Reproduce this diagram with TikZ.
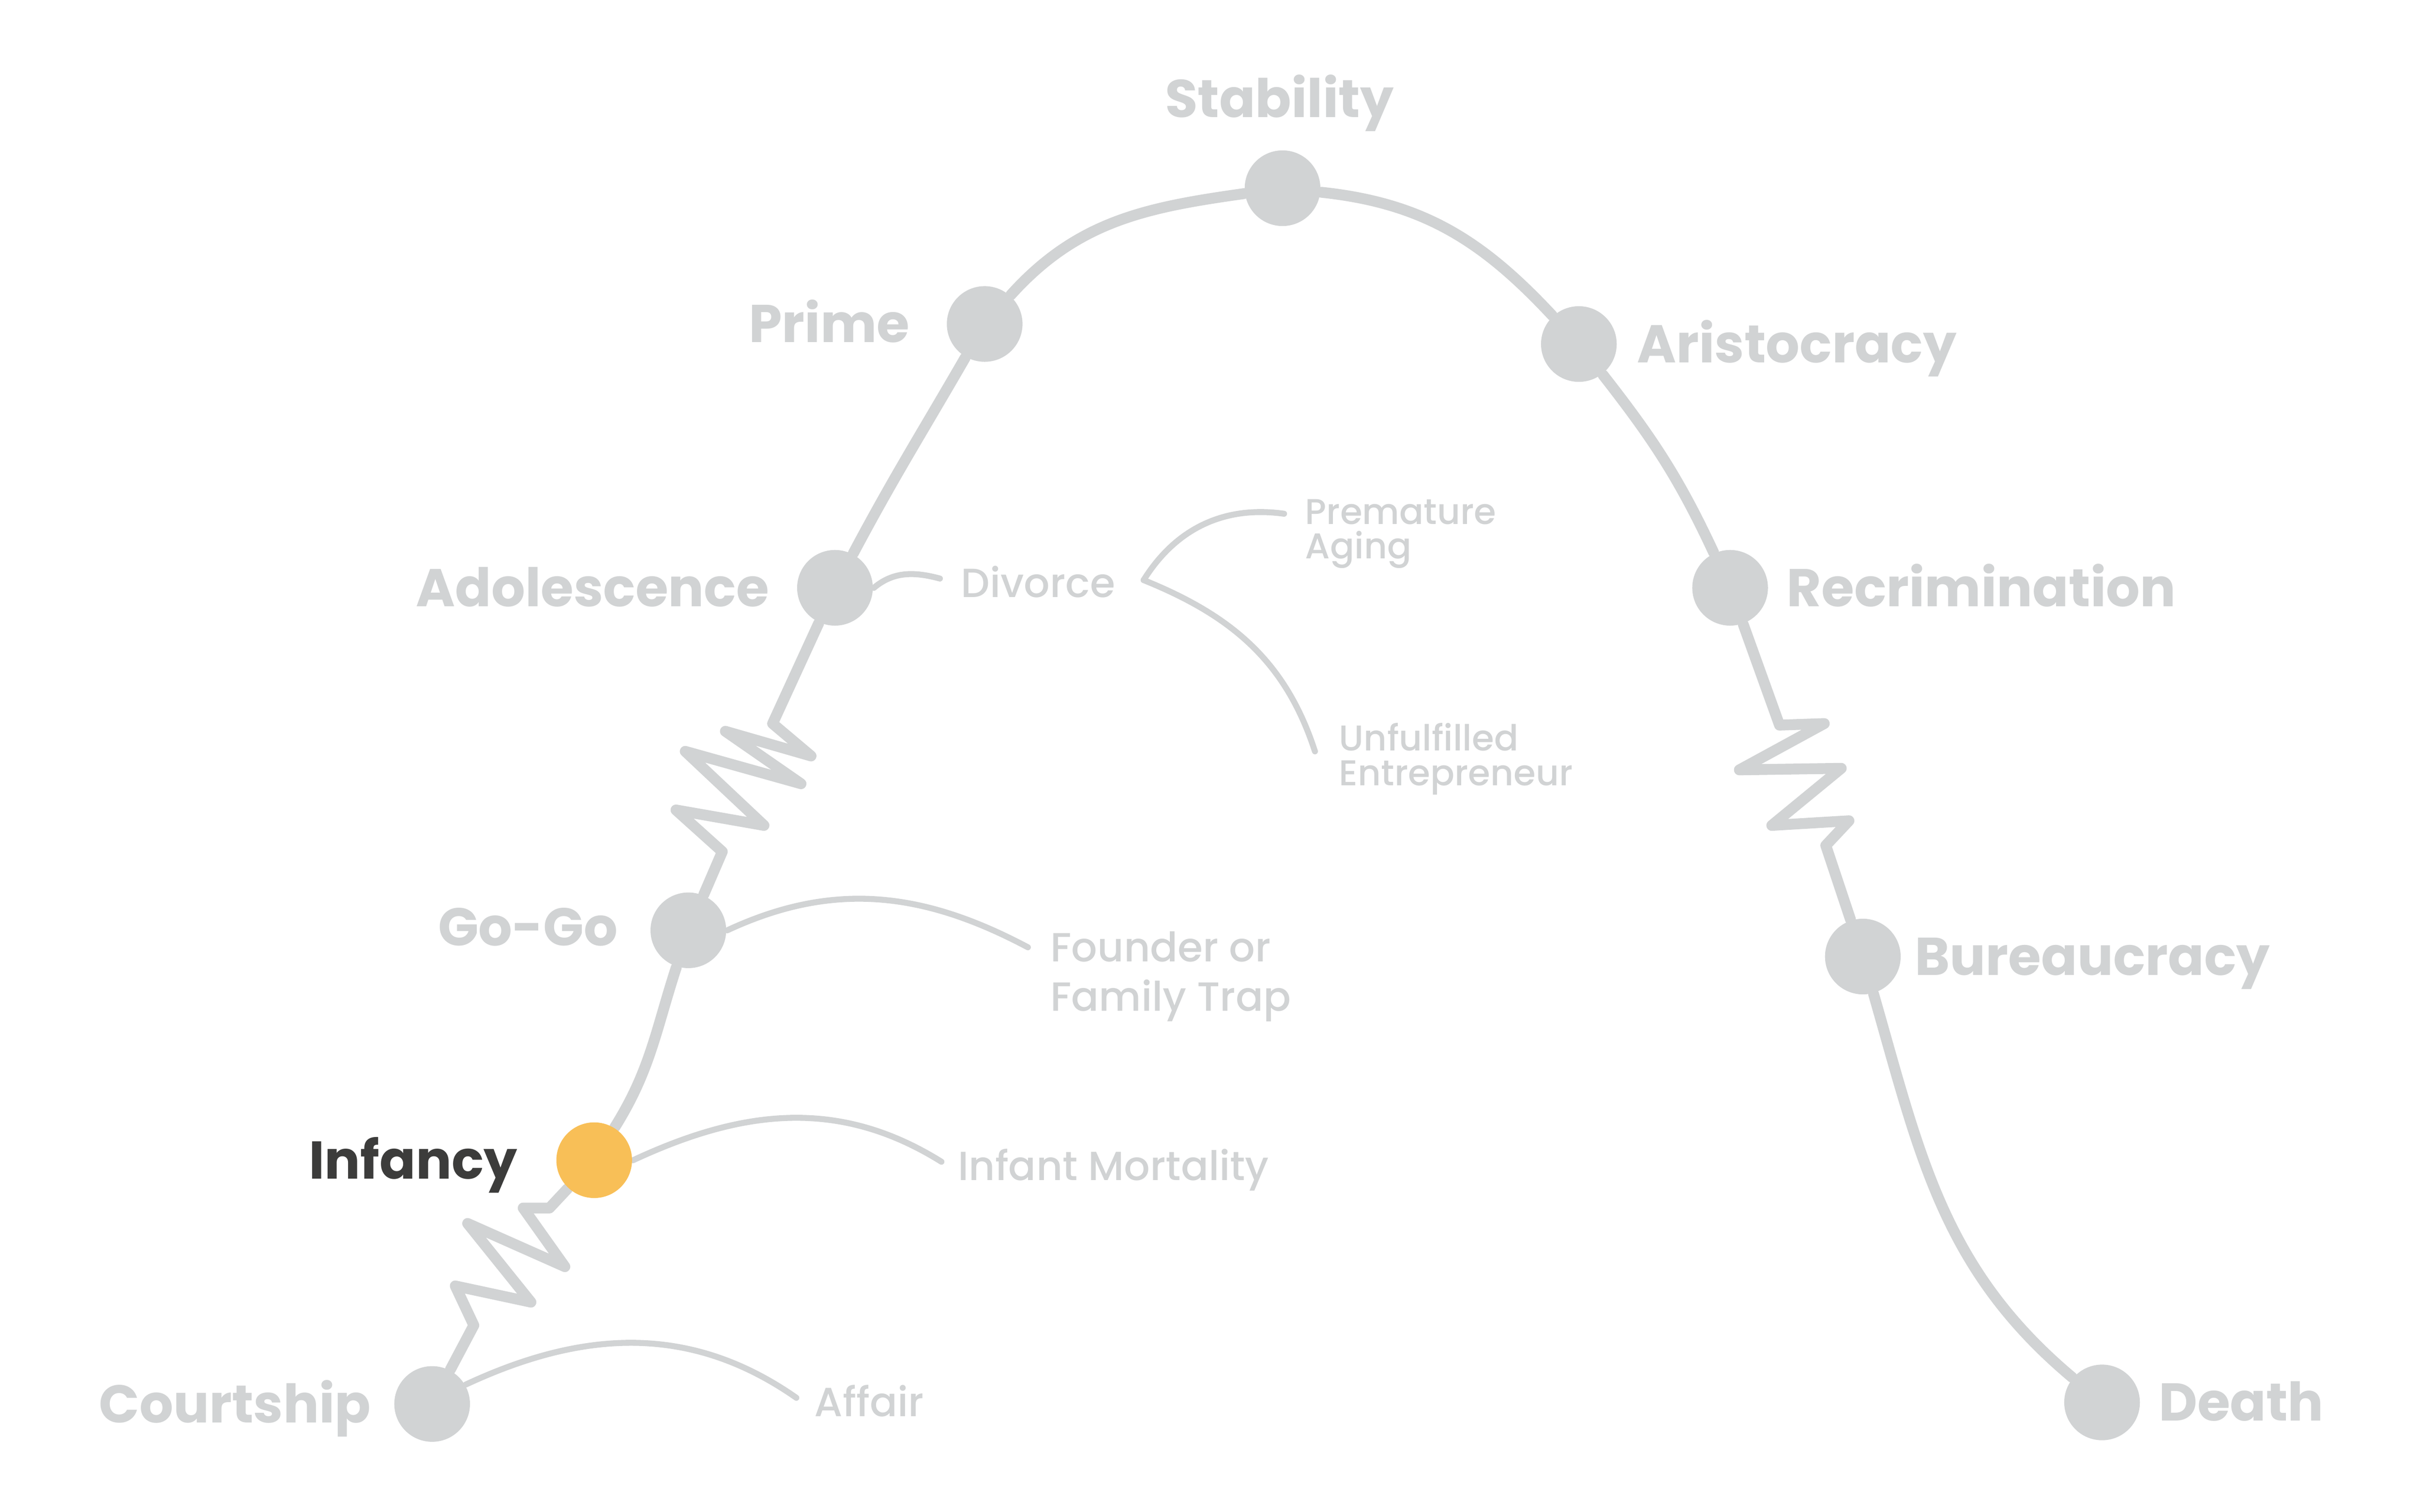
\documentclass[tikz,border=0pt]{standalone}
\usepackage{fontspec}
\setmainfont{Poppins}
\newfontfamily\labelfont{Poppins Medium}
\usetikzlibrary{backgrounds}

\definecolor{stagegray}{HTML}{D1D3D4}
\definecolor{infancyorange}{HTML}{F8BF57}
\definecolor{infancytext}{HTML}{3C3C3B}

\begin{document}
\begin{tikzpicture}[x=0.01cm,y=0.01cm,
    stage/.style={circle,fill=stagegray,minimum size=4.9mm,inner sep=0pt},
    stageline/.style={draw=stagegray,line width=2pt,line cap=round,line join=round},
    trapline/.style={draw=stagegray,line width=1.1pt,line cap=round},
    stagename/.style={inner sep=0pt,text=stagegray,font=\fontsize{9.8}{12}\selectfont\bfseries},
    trapname/.style={inner sep=0pt,text=stagegray,align=left,font=\labelfont\fontsize{7.5}{9.1}\selectfont},
    smalltrap/.style={inner sep=0pt,text=stagegray,align=left,font=\labelfont\fontsize{6.6}{6.4}\selectfont}]
	\useasboundingbox (0,0) rectangle (1568,-980);

	% stages
	\node[stage] (court) at (280,-910) {};
	\node[stage,fill=infancyorange] (inf) at (385,-752) {};
	\node[stage] (gogo) at (446,-603) {};
	\node[stage] (adol) at (541,-381) {};
	\node[stage] (prime) at (638,-210) {};
	\node[stage] (stab) at (831,-122) {};
	\node[stage] (arist) at (1023,-223) {};
	\node[stage] (recrim) at (1121,-381) {};
	\node[stage] (bureau) at (1207,-620) {};
	\node[stage] (death) at (1362,-909) {};

	\node[stagename,anchor=base] (stabname) at (829,-76) {Stability};
	\node[stagename,anchor=base east] (primename) at (590,-222) {Prime};
	\node[stagename,anchor=base west] (aristname) at (1060,-235) {Aristocracy};
	\node[stagename,anchor=base east] (adolname) at (499,-393) {Adolescence};
	\node[stagename,anchor=base west] (recrimname) at (1157,-393) {Recrimination};
	\node[stagename,anchor=base east] (gogoname) at (401,-613) {Go-Go};
	\node[stagename,anchor=base west] (bureauname) at (1240,-632) {Bureaucracy};
	\node[stagename,anchor=base east,text=infancytext] (infname) at (336,-764) {Infancy};
	\node[stagename,anchor=base east] (courtname) at (241,-922) {Courtship};
	\node[stagename,anchor=base west] (deathname) at (1398,-921) {Death};

	% traps
	\node[trapname,anchor=base west] (divorce) at (622,-387) {Divorce};
	\node[smalltrap,anchor=west] (aging) at (845,-346) {Premature\\Aging};
	\node[smalltrap,anchor=west] (unfulfilled) at (867,-492) {Unfulfilled\\Entrepreneur};
	\node[trapname,anchor=west] (founder) at (680,-633) {Founder or\\Family Trap};
	\node[trapname,anchor=base west] (mortality) at (620,-765) {Infant Mortality};
	\node[trapname,anchor=base west] (affair) at (527,-918) {Affair};

	\coordinate (divend) at (609,-375);
	\coordinate (fork) at (741,-376);
	\coordinate (agingend) at (832,-333);
	\coordinate (unfend) at (852,-487);
	\coordinate (founderend) at (666,-614);
	\coordinate (mortend) at (610,-753);
	\coordinate (affairend) at (516,-906);

	\begin{scope}[on background layer]
	\draw[stageline] (court) -- (307,-859) -- (295,-833.5) -- (344,-844) -- (303,-793) -- (366,-821) -- (339,-783) -- (356,-783) -- (inf);
	\draw[stageline] (inf) to[out=58,in=-108] (gogo);
	\draw[stageline] (gogo) -- (468,-552) -- (438,-525) -- (495,-535) -- (444,-487) -- (519,-508) -- (470,-474) -- (525.5,-490) -- (500.6,-469) -- (adol);
	\draw[stageline] (adol) to[out=62,in=-120] (prime) to[out=48,in=188] (stab) to[out=-6,in=133] (arist) to[out=-52,in=115] (recrim);
	\draw[stageline] (recrim) -- (1153,-470) -- (1182,-469) -- (1127,-499) -- (1193,-498) -- (1148,-535) -- (1198,-532) -- (1183,-548) -- (bureau);
	\draw[stageline] (bureau) to[out=-74,in=140] (death);

	\draw[trapline] (adol.east) to[out=40,in=165] (divend);
	\draw[trapline] (fork) to[out=58,in=172] (agingend);
	\draw[trapline] (fork) to[out=-22,in=108] (unfend);
	\draw[trapline] (gogo.east) to[out=25,in=152] (founderend);
	\draw[trapline] (inf.east) to[out=25,in=148] (mortend);
	\draw[trapline] (court.30) to[out=25,in=145] (affairend);
	\end{scope}
\end{tikzpicture}
\end{document}
